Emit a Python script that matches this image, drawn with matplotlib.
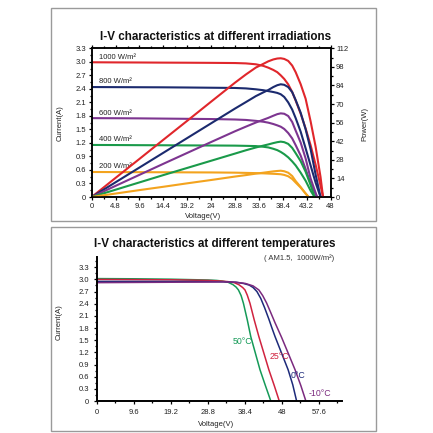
import matplotlib
matplotlib.use('Agg')
import matplotlib.pyplot as plt
from matplotlib.patches import Rectangle
from matplotlib.ticker import MultipleLocator

plt.rcParams['font.family'] = ['Liberation Sans', 'DejaVu Sans']

# ---- top chart: I-V and P-V at different irradiations ----
irr_labels = ['1000 W/m²', '800 W/m²', '600 W/m²', '400 W/m²', '200 W/m²']
irr_colors = ['#e0262b', '#1b2a6e', '#7d3590', '#1a9a4a', '#f3a31e']

v_1000 = [0, 4.8, 9.6, 14.4, 19.2, 24, 28.8, 31, 33, 34.5, 35.5, 36.5, 37.3, 38, 38.7, 39.5, 40.3, 41, 42, 43, 44, 45, 46, 46.5]
i_1000 = [2.99, 2.987, 2.985, 2.982, 2.98, 2.977, 2.973, 2.965, 2.945, 2.91, 2.87, 2.82, 2.77, 2.70, 2.62, 2.50, 2.33, 2.14, 1.85, 1.52, 1.15, 0.72, 0.25, 0]
p_1000 = [0, 14.4, 28.7, 43.1, 57.4, 71.8, 86.1, 92.3, 97.5, 100.3, 102.2, 103.6, 104.3, 104.5, 104.0, 102.5, 99.0, 94.0, 85.0, 74.0, 57.0, 38.0, 15.0, 0]

v_800 = [0, 4.8, 9.6, 14.4, 19.2, 24, 28.8, 31, 33, 34.5, 35.5, 36.5, 37.3, 38, 38.7, 39.5, 40.3, 41, 42, 43, 44, 45, 46]
i_800 = [2.44, 2.438, 2.436, 2.434, 2.43, 2.425, 2.42, 2.41, 2.39, 2.37, 2.35, 2.33, 2.31, 2.28, 2.22, 2.10, 1.94, 1.75, 1.45, 1.08, 0.70, 0.32, 0]
p_800 = [0, 11.1, 22.2, 33.3, 44.4, 55.5, 66.6, 71.5, 76.0, 78.8, 80.6, 82.8, 84.2, 84.9, 84.5, 82.8, 79.0, 73.0, 63.5, 51.0, 36.0, 17.0, 0]

v_600 = [0, 4.8, 9.6, 14.4, 19.2, 24, 28.8, 31, 33, 34.5, 35.5, 36.5, 37.3, 38, 38.7, 39.5, 40.3, 41, 42, 43, 44, 45.3]
i_600 = [1.75, 1.748, 1.745, 1.74, 1.735, 1.73, 1.72, 1.71, 1.69, 1.67, 1.65, 1.62, 1.59, 1.56, 1.51, 1.42, 1.30, 1.15, 0.92, 0.62, 0.30, 0]
p_600 = [0, 8.4, 16.7, 25.0, 33.2, 41.4, 49.5, 53.0, 56.1, 58.2, 59.6, 61.2, 62.4, 63.0, 62.7, 61.0, 56.5, 50.0, 41.0, 29.0, 14.0, 0]

v_400 = [0, 4.8, 9.6, 14.4, 19.2, 24, 28.8, 31, 33, 34.5, 35.5, 36.5, 37.3, 38, 38.7, 39.5, 40.3, 41, 42, 43, 44, 44.8]
i_400 = [1.155, 1.153, 1.15, 1.148, 1.145, 1.143, 1.14, 1.135, 1.13, 1.115, 1.10, 1.07, 1.04, 1.00, 0.95, 0.88, 0.79, 0.70, 0.54, 0.36, 0.14, 0]
p_400 = [0, 5.5, 11.0, 16.5, 21.9, 27.3, 32.7, 35.2, 37.3, 38.7, 39.6, 40.6, 41.3, 41.7, 41.3, 40.0, 37.0, 33.0, 27.0, 19.0, 9.0, 0]

v_200 = [0, 4.8, 9.6, 14.4, 19.2, 24, 28.8, 31, 33, 34.5, 35.5, 36.5, 37.3, 38, 38.7, 39.5, 40.3, 41, 42, 43, 43.6]
i_200 = [0.555, 0.553, 0.551, 0.549, 0.547, 0.545, 0.54, 0.535, 0.53, 0.525, 0.52, 0.515, 0.51, 0.505, 0.49, 0.46, 0.40, 0.32, 0.21, 0.08, 0]
p_200 = [0, 2.6, 5.2, 7.7, 10.3, 12.8, 15.4, 16.5, 17.6, 18.3, 18.8, 19.3, 19.6, 19.8, 19.4, 18.3, 15.8, 12.0, 7.5, 2.5, 0]

irr_volt = [v_1000, v_800, v_600, v_400, v_200]
irr_curr = [i_1000, i_800, i_600, i_400, i_200]
irr_power = [p_1000, p_800, p_600, p_400, p_200]
irr_isc = [2.99, 2.44, 1.75, 1.155, 0.555]

top_xticks = [0, 4.8, 9.6, 14.4, 19.2, 24, 28.8, 33.6, 38.4, 43.2, 48]
top_xlabels = ['0', '4.8', '9.6', '14.4', '19.2', '24', '28.8', '33.6', '38.4', '43.2', '48']
top_yticks = [0, 0.3, 0.6, 0.9, 1.2, 1.5, 1.8, 2.1, 2.4, 2.7, 3.0, 3.3]
power_ticks = [0, 14, 28, 42, 56, 70, 84, 98, 112]

# ---- bottom chart: I-V at different temperatures ----
temp_labels = ['50°C', '25°C', '0°C', '-10°C']
temp_colors = ['#159a58', '#d0233f', '#1d2a7a', '#7b2a7f']

v_50 = [0, 9.6, 19.2, 28.8, 31.0, 32.5, 34.0, 35.3, 36.1, 36.7, 37.4, 38.0, 39.0, 39.9, 41.1, 42.3, 43.7, 45.1]
i_50 = [3.02, 3.015, 3.005, 2.985, 2.975, 2.96, 2.93, 2.87, 2.81, 2.74, 2.60, 2.41, 2.0, 1.59, 1.18, 0.77, 0.38, 0]

v_25 = [0, 9.6, 19.2, 28.8, 32, 34, 35.6, 36.8, 37.8, 38.4, 39.0, 39.7, 40.8, 42.0, 43.3, 44.6, 46.0, 47.3]
i_25 = [3.0, 2.995, 2.99, 2.975, 2.96, 2.945, 2.92, 2.87, 2.80, 2.74, 2.61, 2.41, 2.0, 1.59, 1.18, 0.77, 0.38, 0]

v_0 = [0, 9.6, 19.2, 28.8, 33.0, 36.0, 38.0, 39.5, 40.5, 41.5, 42.5, 43.5, 44.6, 45.4, 46.2, 47.9, 49.6, 50.8, 51.8]
i_0 = [2.95, 2.95, 2.95, 2.945, 2.94, 2.93, 2.90, 2.86, 2.80, 2.70, 2.53, 2.30, 2.02, 1.80, 1.59, 1.18, 0.77, 0.40, 0]

v_m10 = [0, 9.6, 19.2, 28.8, 33.0, 36.0, 38.5, 40.5, 42.0, 43.0, 44.0, 45.0, 46.2, 47.9, 49.7, 51.4, 52.9, 54.2]
i_m10 = [2.92, 2.925, 2.93, 2.935, 2.94, 2.93, 2.90, 2.84, 2.74, 2.60, 2.42, 2.20, 1.93, 1.57, 1.16, 0.77, 0.38, 0]

temp_volt = [v_50, v_25, v_0, v_m10]
temp_curr = [i_50, i_25, i_0, i_m10]
# where each temperature label sits (V, I)
temp_label_pos = [(35.3, 1.46), (44.9, 1.09), (50.3, 0.64), (54.8, 0.19)]

bot_xticks = [0, 9.6, 19.2, 28.8, 38.4, 48, 57.6]
bot_xlabels = ['0', '9.6', '19.2', '28.8', '38.4', '48', '57.6']
bot_yticks = [0, 0.3, 0.6, 0.9, 1.2, 1.5, 1.8, 2.1, 2.4, 2.7, 3.0, 3.3]

W = H = 433.0
fig = plt.figure(figsize=(4.33, 4.33), dpi=100)


def fx(px):
    return px / W


def fy(py):
    return 1 - py / H


# frames around the two panels
for (x0, y0, x1, y1) in [(50.5, 7.5, 376, 220.5), (50.5, 227, 376, 430.5)]:
    fig.patches.append(Rectangle((fx(x0), fy(y1)), fx(x1) - fx(x0), fy(y0) - fy(y1),
                                 transform=fig.transFigure, fill=False,
                                 edgecolor='#9a9a9a', linewidth=1.0))

tick_font = 5.5
lab_font = 5.5
lw_axis = 1.1

# ---------------- top chart ----------------
ax = fig.add_axes([fx(91.7), fy(197), fx(330.5) - fx(91.7), fy(48.3) - fy(197)])
for v, i, c in zip(irr_volt, irr_curr, irr_colors):
    ax.plot(v, i, color=c, lw=1.5, solid_capstyle='round', solid_joinstyle='round')
ax.set_xlim(0, 48)
ax.set_ylim(0, 3.3)
ax.set_xticks(top_xticks)
ax.set_xticklabels(top_xlabels)
ax.set_yticks(top_yticks)
ax.set_yticklabels(['0' if t == 0 else '%.1f' % t for t in top_yticks])
ax.xaxis.set_minor_locator(MultipleLocator(2.4))
ax.yaxis.set_minor_locator(MultipleLocator(0.15))
ax.tick_params(which='both', direction='out', labelsize=tick_font, pad=1.5, width=0.9, top=True,
               labelcolor='#222222')
ax.tick_params(which='major', length=2.5)
ax.tick_params(which='minor', length=1.5)
for s in ax.spines.values():
    s.set_linewidth(lw_axis)

for lab, isc, c in zip(irr_labels, irr_isc, irr_colors):
    ax.text(1.4, isc + 0.035, lab, fontsize=lab_font, color='#222222', ha='left', va='bottom')

ax2 = ax.twinx()
for v, p, c in zip(irr_volt, irr_power, irr_colors):
    ax2.plot(v, p, color=c, lw=1.5, solid_capstyle='round', solid_joinstyle='round')
ax2.set_ylim(0, 112)
ax2.set_yticks(power_ticks)
ax2.yaxis.set_minor_locator(MultipleLocator(7))
ax2.tick_params(which='both', direction='out', labelsize=tick_font, pad=1.5, width=0.9,
                labelcolor='#222222')
ax2.tick_params(which='major', length=2.5)
ax2.tick_params(which='minor', length=1.5)
for s in ax2.spines.values():
    s.set_linewidth(lw_axis)

fig.text(fx(216), fy(36.5), 'I-V characteristics at different irradiations',
         ha='center', va='center', fontsize=8.4, fontweight='bold', color='#111111')
fig.text(fx(60), fy(123), 'Current(A)', rotation=90, ha='center', va='center', fontsize=lab_font, color='#222222')
fig.text(fx(365), fy(124), 'Power(W)', rotation=90, ha='center', va='center', fontsize=lab_font, color='#222222')
fig.text(fx(203), fy(216), 'Voltage(V)', ha='center', va='center', fontsize=lab_font, color='#222222')

# ---------------- bottom chart ----------------
bx = fig.add_axes([fx(97), fy(401), fx(341.7) - fx(97), fy(256.7) - fy(401)])
for v, i, c in zip(temp_volt, temp_curr, temp_colors):
    bx.plot(v, i, color=c, lw=1.1, solid_joinstyle='round')
for lab, (pv, pi), c in zip(temp_labels, temp_label_pos, temp_colors):
    bx.text(pv, pi, lab, fontsize=6.3, color=c, ha='left', va='center')
bx.set_xlim(0, 63.5)
bx.set_ylim(0, 3.56)
bx.set_xticks(bot_xticks)
bx.set_xticklabels(bot_xlabels)
bx.set_yticks(bot_yticks)
bx.set_yticklabels(['0' if t == 0 else '%.1f' % t for t in bot_yticks])
bx.xaxis.set_minor_locator(MultipleLocator(4.8))
bx.yaxis.set_minor_locator(MultipleLocator(0.15))
bx.tick_params(which='both', direction='out', labelsize=tick_font, pad=3, width=0.9,
               labelcolor='#222222')
bx.tick_params(which='major', length=2.5)
bx.tick_params(which='minor', length=1.5)
bx.spines['top'].set_visible(False)
bx.spines['right'].set_visible(False)
bx.spines['left'].set_linewidth(1.4)
bx.spines['bottom'].set_linewidth(1.4)

fig.text(fx(215), fy(244), 'I-V characteristics at different temperatures',
         ha='center', va='center', fontsize=8.4, fontweight='bold', color='#111111')
fig.text(fx(334), fy(258), '( AM1.5,  1000W/m²)', ha='right', va='center', fontsize=5.5, color='#333333')
fig.text(fx(59), fy(322), 'Current(A)', rotation=90, ha='center', va='center', fontsize=lab_font, color='#222222')
fig.text(fx(216), fy(425), 'Voltage(V)', ha='center', va='center', fontsize=lab_font, color='#222222')

fig.savefig('out.png', dpi=100)
